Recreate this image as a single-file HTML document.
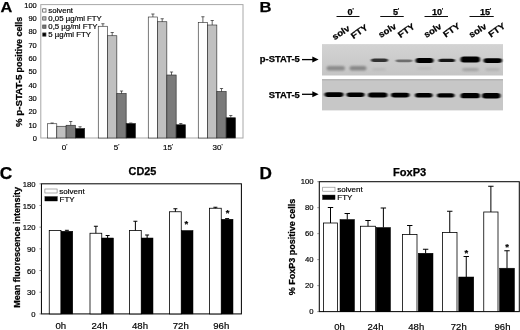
<!DOCTYPE html>
<html lang="en"><head><meta charset="utf-8"><title>Figure</title>
<style>html,body{margin:0;padding:0;background:#fff}body{width:520px;height:330px;overflow:hidden}svg{display:block}text{font-family:'Liberation Sans', Arial, sans-serif;fill:#000}</style>
</head><body>
<svg width="520" height="330" viewBox="0 0 520 330">
<defs><filter id="b1" x="-20%" y="-50%" width="140%" height="200%"><feGaussianBlur stdDeviation="0.9 0.7"/></filter><filter id="b2" x="-20%" y="-50%" width="140%" height="200%"><feGaussianBlur stdDeviation="1.2 1.0"/></filter><filter id="soft"><feGaussianBlur stdDeviation="0.35"/></filter></defs>
<rect width="520" height="330" fill="#fff"/>
<g filter="url(#soft)">
<g id="panelA">
<text x="0.5" y="12.4" font-size="14.6" font-weight="bold" text-anchor="start" stroke="#000" stroke-width="0.25" textLength="11.8" lengthAdjust="spacingAndGlyphs">A</text>
<rect x="40.8" y="4.6" width="202.2" height="133.4" fill="#fff" stroke="#a8a8a8" stroke-width="1"/>
<text x="36.8" y="140.9" font-size="7.5" text-anchor="end" stroke="#000" stroke-width="0.18">0</text>
<text x="36.8" y="127.56" font-size="7.5" text-anchor="end" stroke="#000" stroke-width="0.18">10</text>
<text x="36.8" y="114.22" font-size="7.5" text-anchor="end" stroke="#000" stroke-width="0.18">20</text>
<text x="36.8" y="100.88" font-size="7.5" text-anchor="end" stroke="#000" stroke-width="0.18">30</text>
<text x="36.8" y="87.54" font-size="7.5" text-anchor="end" stroke="#000" stroke-width="0.18">40</text>
<text x="36.8" y="74.2" font-size="7.5" text-anchor="end" stroke="#000" stroke-width="0.18">50</text>
<text x="36.8" y="60.85999999999999" font-size="7.5" text-anchor="end" stroke="#000" stroke-width="0.18">60</text>
<text x="36.8" y="47.51999999999999" font-size="7.5" text-anchor="end" stroke="#000" stroke-width="0.18">70</text>
<text x="36.8" y="34.18" font-size="7.5" text-anchor="end" stroke="#000" stroke-width="0.18">80</text>
<text x="36.8" y="20.839999999999996" font-size="7.5" text-anchor="end" stroke="#000" stroke-width="0.18">90</text>
<text x="36.8" y="7.499999999999995" font-size="7.5" text-anchor="end" stroke="#000" stroke-width="0.18">100</text>
<text x="21.7" y="127.0" font-size="8.6" font-weight="bold" text-anchor="start" transform="rotate(-90 21.7 127.0)" stroke="#000" stroke-width="0.25" textLength="52.4" lengthAdjust="spacingAndGlyphs">% p-STAT-5</text>
<text x="21.7" y="72.4" font-size="8.6" font-weight="bold" text-anchor="start" transform="rotate(-90 21.7 72.4)" stroke="#000" stroke-width="0.25" textLength="55.6" lengthAdjust="spacingAndGlyphs">positive cells</text>
<rect x="47.50" y="123.75" width="9.30" height="14.25" fill="#fff" stroke="#222" stroke-width="0.6"/>
<line x1="52.15" y1="123.75" x2="52.15" y2="123.0" stroke="#222" stroke-width="0.7"/>
<line x1="50.55" y1="123.0" x2="53.75" y2="123.0" stroke="#222" stroke-width="0.7"/>
<rect x="56.80" y="126.25" width="9.30" height="11.75" fill="#c0c0c0" stroke="#222" stroke-width="0.6"/>
<rect x="66.10" y="125.25" width="9.30" height="12.75" fill="#7a7a7a" stroke="#222" stroke-width="0.6"/>
<line x1="70.75" y1="125.25" x2="70.75" y2="121.5" stroke="#222" stroke-width="0.7"/>
<line x1="69.15" y1="121.5" x2="72.35" y2="121.5" stroke="#222" stroke-width="0.7"/>
<rect x="75.40" y="128.50" width="9.30" height="9.50" fill="#000" stroke="#222" stroke-width="0.6"/>
<line x1="80.05000000000001" y1="128.5" x2="80.05000000000001" y2="126.75" stroke="#222" stroke-width="0.7"/>
<line x1="78.45000000000002" y1="126.75" x2="81.65" y2="126.75" stroke="#222" stroke-width="0.7"/>
<rect x="98.25" y="26.25" width="9.30" height="111.75" fill="#fff" stroke="#222" stroke-width="0.6"/>
<line x1="102.9" y1="26.25" x2="102.9" y2="23.75" stroke="#222" stroke-width="0.7"/>
<line x1="101.30000000000001" y1="23.75" x2="104.5" y2="23.75" stroke="#222" stroke-width="0.7"/>
<rect x="107.55" y="35.75" width="9.30" height="102.25" fill="#c0c0c0" stroke="#222" stroke-width="0.6"/>
<line x1="112.2" y1="35.75" x2="112.2" y2="32.5" stroke="#222" stroke-width="0.7"/>
<line x1="110.60000000000001" y1="32.5" x2="113.8" y2="32.5" stroke="#222" stroke-width="0.7"/>
<rect x="116.85" y="93.50" width="9.30" height="44.50" fill="#7a7a7a" stroke="#222" stroke-width="0.6"/>
<line x1="121.5" y1="93.5" x2="121.5" y2="91" stroke="#222" stroke-width="0.7"/>
<line x1="119.9" y1="91" x2="123.1" y2="91" stroke="#222" stroke-width="0.7"/>
<rect x="126.15" y="123.50" width="9.30" height="14.50" fill="#000" stroke="#222" stroke-width="0.6"/>
<line x1="130.8" y1="123.5" x2="130.8" y2="123.0" stroke="#222" stroke-width="0.7"/>
<line x1="129.20000000000002" y1="123.0" x2="132.4" y2="123.0" stroke="#222" stroke-width="0.7"/>
<rect x="148.25" y="17.00" width="9.30" height="121.00" fill="#fff" stroke="#222" stroke-width="0.6"/>
<line x1="152.9" y1="17" x2="152.9" y2="14" stroke="#222" stroke-width="0.7"/>
<line x1="151.3" y1="14" x2="154.5" y2="14" stroke="#222" stroke-width="0.7"/>
<rect x="157.55" y="21.75" width="9.30" height="116.25" fill="#c0c0c0" stroke="#222" stroke-width="0.6"/>
<line x1="162.20000000000002" y1="21.75" x2="162.20000000000002" y2="18.75" stroke="#222" stroke-width="0.7"/>
<line x1="160.60000000000002" y1="18.75" x2="163.8" y2="18.75" stroke="#222" stroke-width="0.7"/>
<rect x="166.85" y="75.00" width="9.30" height="63.00" fill="#7a7a7a" stroke="#222" stroke-width="0.6"/>
<line x1="171.5" y1="75" x2="171.5" y2="72" stroke="#222" stroke-width="0.7"/>
<line x1="169.9" y1="72" x2="173.1" y2="72" stroke="#222" stroke-width="0.7"/>
<rect x="176.15" y="124.75" width="9.30" height="13.25" fill="#000" stroke="#222" stroke-width="0.6"/>
<line x1="180.8" y1="124.75" x2="180.8" y2="123.5" stroke="#222" stroke-width="0.7"/>
<line x1="179.20000000000002" y1="123.5" x2="182.4" y2="123.5" stroke="#222" stroke-width="0.7"/>
<rect x="198.25" y="22.50" width="9.30" height="115.50" fill="#fff" stroke="#222" stroke-width="0.6"/>
<line x1="202.9" y1="22.5" x2="202.9" y2="16.75" stroke="#222" stroke-width="0.7"/>
<line x1="201.3" y1="16.75" x2="204.5" y2="16.75" stroke="#222" stroke-width="0.7"/>
<rect x="207.55" y="25.00" width="9.30" height="113.00" fill="#c0c0c0" stroke="#222" stroke-width="0.6"/>
<line x1="212.20000000000002" y1="25" x2="212.20000000000002" y2="20.5" stroke="#222" stroke-width="0.7"/>
<line x1="210.60000000000002" y1="20.5" x2="213.8" y2="20.5" stroke="#222" stroke-width="0.7"/>
<rect x="216.85" y="91.50" width="9.30" height="46.50" fill="#7a7a7a" stroke="#222" stroke-width="0.6"/>
<line x1="221.5" y1="91.5" x2="221.5" y2="88.5" stroke="#222" stroke-width="0.7"/>
<line x1="219.9" y1="88.5" x2="223.1" y2="88.5" stroke="#222" stroke-width="0.7"/>
<rect x="226.15" y="117.75" width="9.30" height="20.25" fill="#000" stroke="#222" stroke-width="0.6"/>
<line x1="230.8" y1="117.75" x2="230.8" y2="115.5" stroke="#222" stroke-width="0.7"/>
<line x1="229.20000000000002" y1="115.5" x2="232.4" y2="115.5" stroke="#222" stroke-width="0.7"/>
<text x="64.5" y="150.2" font-size="8" text-anchor="middle" stroke="#000" stroke-width="0.18">0<tspan font-size="6" dy="-1.8">'</tspan></text>
<text x="116.5" y="150.2" font-size="8" text-anchor="middle" stroke="#000" stroke-width="0.18">5<tspan font-size="6" dy="-1.8">'</tspan></text>
<text x="168" y="150.2" font-size="8" text-anchor="middle" stroke="#000" stroke-width="0.18">15<tspan font-size="6" dy="-1.8">'</tspan></text>
<text x="217.5" y="150.2" font-size="8" text-anchor="middle" stroke="#000" stroke-width="0.18">30<tspan font-size="6" dy="-1.8">'</tspan></text>
<rect x="42.70" y="8.80" width="3.30" height="3.30" fill="#fff" stroke="#444" stroke-width="0.7"/>
<text x="48.3" y="13.100000000000001" font-size="7.8" text-anchor="start" stroke="#000" stroke-width="0.18">solvent</text>
<rect x="42.70" y="16.80" width="3.30" height="3.30" fill="#c0c0c0" stroke="#444" stroke-width="0.7"/>
<text x="48.3" y="21.099999999999998" font-size="7.8" text-anchor="start" stroke="#000" stroke-width="0.18">0,05 µg/ml FTY</text>
<rect x="42.70" y="25.00" width="3.30" height="3.30" fill="#7a7a7a" stroke="#444" stroke-width="0.7"/>
<text x="48.3" y="29.3" font-size="7.8" text-anchor="start" stroke="#000" stroke-width="0.18">0,5 µg/ml FTY</text>
<rect x="42.70" y="32.90" width="3.30" height="3.30" fill="#000" stroke="#444" stroke-width="0.7"/>
<text x="48.3" y="37.2" font-size="7.8" text-anchor="start" stroke="#000" stroke-width="0.18">5 µg/ml FTY</text>
</g>
<g id="panelB">
<text x="259.6" y="12.3" font-size="15.0" font-weight="bold" text-anchor="start" stroke="#000" stroke-width="0.25" textLength="12.0" lengthAdjust="spacingAndGlyphs">B</text>
<linearGradient id="g1" x1="0" y1="0" x2="0" y2="1"><stop offset="0" stop-color="#d3d3d3"/><stop offset="0.5" stop-color="#cccccc"/><stop offset="1" stop-color="#c5c5c5"/></linearGradient>
<rect x="322.00" y="44.10" width="181.00" height="31.40" fill="url(#g1)"/>
<rect x="322.00" y="79.00" width="181.00" height="31.40" fill="#c7c7c7"/>
<rect x="322.00" y="79.00" width="181.00" height="1.60" fill="#b6b6b6"/>
<text x="350.6" y="15.0" font-size="9.1" font-weight="bold" text-anchor="middle" stroke="#000" stroke-width="0.25">0<tspan font-size="6.5" dy="-2.2" font-weight="normal">'</tspan></text>
<line x1="336.5" y1="16.5" x2="359.5" y2="16.5" stroke="#111" stroke-width="1.0"/>
<text x="396.1" y="15.0" font-size="9.1" font-weight="bold" text-anchor="middle" stroke="#000" stroke-width="0.25">5<tspan font-size="6.5" dy="-2.2" font-weight="normal">'</tspan></text>
<line x1="380.25" y1="16.5" x2="403.75" y2="16.5" stroke="#111" stroke-width="1.0"/>
<text x="437.6" y="15.0" font-size="9.1" font-weight="bold" text-anchor="middle" stroke="#000" stroke-width="0.25">10<tspan font-size="6.5" dy="-2.2" font-weight="normal">'</tspan></text>
<line x1="424.5" y1="16.5" x2="448" y2="16.5" stroke="#111" stroke-width="1.0"/>
<text x="485.6" y="15.0" font-size="9.1" font-weight="bold" text-anchor="middle" stroke="#000" stroke-width="0.25">15<tspan font-size="6.5" dy="-2.2" font-weight="normal">'</tspan></text>
<line x1="469.5" y1="16.5" x2="493.75" y2="16.5" stroke="#111" stroke-width="1.0"/>
<text x="334.45" y="40.2" font-size="8.8" font-weight="bold" text-anchor="start" transform="rotate(-32.5 334.45 40.2)" stroke="#000" stroke-width="0.25" textLength="19.19" lengthAdjust="spacingAndGlyphs">solv</text>
<text x="353.5" y="39.2" font-size="8.8" font-weight="bold" text-anchor="start" transform="rotate(-35 353.5 39.2)" stroke="#000" stroke-width="0.25" textLength="18.28" lengthAdjust="spacingAndGlyphs">FTY</text>
<text x="380.8" y="38.1" font-size="8.8" font-weight="bold" text-anchor="start" transform="rotate(-32.5 380.8 38.1)" stroke="#000" stroke-width="0.25" textLength="19.19" lengthAdjust="spacingAndGlyphs">solv</text>
<text x="400.5" y="38.2" font-size="8.8" font-weight="bold" text-anchor="start" transform="rotate(-35 400.5 38.2)" stroke="#000" stroke-width="0.25" textLength="18.28" lengthAdjust="spacingAndGlyphs">FTY</text>
<text x="426.2" y="38.1" font-size="8.8" font-weight="bold" text-anchor="start" transform="rotate(-32.5 426.2 38.1)" stroke="#000" stroke-width="0.25" textLength="19.19" lengthAdjust="spacingAndGlyphs">solv</text>
<text x="445.75" y="37.7" font-size="8.8" font-weight="bold" text-anchor="start" transform="rotate(-35 445.75 37.7)" stroke="#000" stroke-width="0.25" textLength="18.28" lengthAdjust="spacingAndGlyphs">FTY</text>
<text x="471.2" y="38.1" font-size="8.8" font-weight="bold" text-anchor="start" transform="rotate(-32.5 471.2 38.1)" stroke="#000" stroke-width="0.25" textLength="19.19" lengthAdjust="spacingAndGlyphs">solv</text>
<text x="491" y="37.7" font-size="8.8" font-weight="bold" text-anchor="start" transform="rotate(-35 491 37.7)" stroke="#000" stroke-width="0.25" textLength="18.28" lengthAdjust="spacingAndGlyphs">FTY</text>
<text x="259.8" y="62.4" font-size="8.4" font-weight="bold" text-anchor="start" stroke="#000" stroke-width="0.25" textLength="40" lengthAdjust="spacingAndGlyphs">p-STAT-5</text>
<text x="268.8" y="97.6" font-size="8.4" font-weight="bold" text-anchor="start" stroke="#000" stroke-width="0.25" textLength="31" lengthAdjust="spacingAndGlyphs">STAT-5</text>
<line x1="302" y1="59.6" x2="314" y2="59.6" stroke="#000" stroke-width="1.3"/>
<polygon points="318.6,59.6 312.3,56.6 312.3,62.6" fill="#000"/>
<line x1="302" y1="94.3" x2="314" y2="94.3" stroke="#000" stroke-width="1.3"/>
<polygon points="318.6,94.3 312.3,91.3 312.3,97.3" fill="#000"/>
<rect x="326.5" y="66.00" width="18.5" height="4.6" rx="3.00" ry="2.30" fill="#8a8a8a" filter="url(#b2)"/>
<rect x="349.5" y="66.00" width="17.0" height="4.6" rx="3.00" ry="2.30" fill="#878787" filter="url(#b2)"/>
<rect x="371" y="58.50" width="17" height="3.4" rx="3.00" ry="1.70" fill="#303030" filter="url(#b1)"/>
<rect x="395.5" y="59.40" width="17.0" height="2.8" rx="3.00" ry="1.40" fill="#6e6e6e" filter="url(#b1)"/>
<rect x="415.5" y="58.10" width="18.0" height="5.0" rx="3.00" ry="2.50" fill="#000" filter="url(#b1)"/>
<rect x="438.5" y="58.70" width="16.5" height="3.4" rx="3.00" ry="1.70" fill="#141414" filter="url(#b1)"/>
<rect x="460.5" y="56.60" width="19.5" height="6.0" rx="3.00" ry="3.00" fill="#000" filter="url(#b1)"/>
<rect x="483.5" y="58.30" width="18.5" height="4.6" rx="3.00" ry="2.30" fill="#030303" filter="url(#b1)"/>
<rect x="462" y="68.00" width="17" height="3.2" rx="3.00" ry="1.60" fill="#a4a4a4" filter="url(#b2)"/>
<rect x="485" y="68.20" width="15" height="2.8" rx="3.00" ry="1.40" fill="#b2b2b2" filter="url(#b2)"/>
<rect x="372" y="68.20" width="14" height="2.6" rx="3.00" ry="1.30" fill="#bababa" filter="url(#b2)"/>
<rect x="417" y="67.20" width="15" height="2.6" rx="3.00" ry="1.30" fill="#bbbbbb" filter="url(#b2)"/>
<rect x="324.5" y="92.30" width="19.0" height="4.6" rx="3.2" ry="2.30" fill="#000" filter="url(#b1)"/>
<rect x="346.5" y="92.57" width="18.0" height="4.4" rx="3.2" ry="2.20" fill="#000" filter="url(#b1)"/>
<rect x="368" y="92.44" width="19.5" height="5.0" rx="3.2" ry="2.50" fill="#000" filter="url(#b1)"/>
<rect x="391" y="92.71" width="18.5" height="4.8" rx="3.2" ry="2.40" fill="#000" filter="url(#b1)"/>
<rect x="415" y="92.99" width="17.5" height="4.6" rx="3.2" ry="2.30" fill="#000" filter="url(#b1)"/>
<rect x="437" y="93.36" width="17.5" height="4.2" rx="3.2" ry="2.10" fill="#000" filter="url(#b1)"/>
<rect x="460.5" y="92.93" width="19.5" height="5.4" rx="3.2" ry="2.70" fill="#000" filter="url(#b1)"/>
<rect x="482" y="93.10" width="18.5" height="5.4" rx="3.2" ry="2.70" fill="#000" filter="url(#b1)"/>
</g>
<g id="panelC">
<text x="-0.2" y="178.7" font-size="15.8" font-weight="bold" text-anchor="start" stroke="#000" stroke-width="0.25" textLength="12.5" lengthAdjust="spacingAndGlyphs">C</text>
<text x="128.6" y="175.2" font-size="10.8" font-weight="bold" text-anchor="start" stroke="#000" stroke-width="0.25" textLength="27.8" lengthAdjust="spacingAndGlyphs">CD25</text>
<rect x="41.45" y="183.8" width="199.95" height="130.09999999999997" fill="#fff" stroke="#0a0a0a" stroke-width="1.05"/>
<text x="35.6" y="316.7" font-size="7.7" text-anchor="end" stroke="#000" stroke-width="0.18">0</text>
<line x1="39.45" y1="313.9" x2="41.45" y2="313.9" stroke="#444" stroke-width="0.6"/>
<text x="35.6" y="295.09999999999997" font-size="7.7" text-anchor="end" stroke="#000" stroke-width="0.18">30</text>
<line x1="39.45" y1="292.21666666666664" x2="41.45" y2="292.21666666666664" stroke="#444" stroke-width="0.6"/>
<text x="35.6" y="273.5" font-size="7.7" text-anchor="end" stroke="#000" stroke-width="0.18">60</text>
<line x1="39.45" y1="270.5333333333333" x2="41.45" y2="270.5333333333333" stroke="#444" stroke-width="0.6"/>
<text x="35.6" y="251.89999999999998" font-size="7.7" text-anchor="end" stroke="#000" stroke-width="0.18">90</text>
<line x1="39.45" y1="248.85" x2="41.45" y2="248.85" stroke="#444" stroke-width="0.6"/>
<text x="35.6" y="230.29999999999998" font-size="7.7" text-anchor="end" stroke="#000" stroke-width="0.18">120</text>
<line x1="39.45" y1="227.16666666666666" x2="41.45" y2="227.16666666666666" stroke="#444" stroke-width="0.6"/>
<text x="35.6" y="208.7" font-size="7.7" text-anchor="end" stroke="#000" stroke-width="0.18">150</text>
<line x1="39.45" y1="205.48333333333335" x2="41.45" y2="205.48333333333335" stroke="#444" stroke-width="0.6"/>
<text x="35.6" y="187.1" font-size="7.7" text-anchor="end" stroke="#000" stroke-width="0.18">180</text>
<line x1="39.45" y1="183.8" x2="41.45" y2="183.8" stroke="#444" stroke-width="0.6"/>
<text x="19.7" y="307.7" font-size="8.2" font-weight="bold" text-anchor="start" transform="rotate(-90 19.7 307.7)" stroke="#000" stroke-width="0.25" textLength="120.8" lengthAdjust="spacingAndGlyphs">Mean fluorescence intensity</text>
<rect x="49.25" y="230.50" width="11.75" height="83.40" fill="#fff" stroke="#000" stroke-width="0.8"/>
<rect x="61.00" y="231.25" width="11.75" height="82.65" fill="#000" stroke="#000" stroke-width="0.5"/>
<line x1="66.875" y1="231.25" x2="66.875" y2="230.3" stroke="#000" stroke-width="1.0"/>
<line x1="64.875" y1="230.3" x2="68.875" y2="230.3" stroke="#000" stroke-width="1.0"/>
<rect x="90.00" y="233.25" width="11.75" height="80.65" fill="#fff" stroke="#000" stroke-width="0.8"/>
<line x1="95.875" y1="233.25" x2="95.875" y2="226.25" stroke="#000" stroke-width="1.0"/>
<line x1="93.875" y1="226.25" x2="97.875" y2="226.25" stroke="#000" stroke-width="1.0"/>
<rect x="101.75" y="238.00" width="11.75" height="75.90" fill="#000" stroke="#000" stroke-width="0.5"/>
<line x1="107.625" y1="238" x2="107.625" y2="235.5" stroke="#000" stroke-width="1.0"/>
<line x1="105.625" y1="235.5" x2="109.625" y2="235.5" stroke="#000" stroke-width="1.0"/>
<rect x="129.50" y="230.50" width="11.75" height="83.40" fill="#fff" stroke="#000" stroke-width="0.8"/>
<line x1="135.375" y1="230.5" x2="135.375" y2="221.25" stroke="#000" stroke-width="1.0"/>
<line x1="133.375" y1="221.25" x2="137.375" y2="221.25" stroke="#000" stroke-width="1.0"/>
<rect x="141.25" y="238.00" width="11.75" height="75.90" fill="#000" stroke="#000" stroke-width="0.5"/>
<line x1="147.125" y1="238" x2="147.125" y2="235" stroke="#000" stroke-width="1.0"/>
<line x1="145.125" y1="235" x2="149.125" y2="235" stroke="#000" stroke-width="1.0"/>
<rect x="169.50" y="211.75" width="11.75" height="102.15" fill="#fff" stroke="#000" stroke-width="0.8"/>
<line x1="175.375" y1="211.75" x2="175.375" y2="208.75" stroke="#000" stroke-width="1.0"/>
<line x1="173.375" y1="208.75" x2="177.375" y2="208.75" stroke="#000" stroke-width="1.0"/>
<rect x="181.25" y="230.50" width="11.75" height="83.40" fill="#000" stroke="#000" stroke-width="0.5"/>
<rect x="209.50" y="208.25" width="11.75" height="105.65" fill="#fff" stroke="#000" stroke-width="0.8"/>
<line x1="215.375" y1="208.25" x2="215.375" y2="207.25" stroke="#000" stroke-width="1.0"/>
<line x1="213.375" y1="207.25" x2="217.375" y2="207.25" stroke="#000" stroke-width="1.0"/>
<rect x="221.25" y="219.25" width="11.75" height="94.65" fill="#000" stroke="#000" stroke-width="0.5"/>
<line x1="227.125" y1="219.25" x2="227.125" y2="218.6" stroke="#000" stroke-width="1.0"/>
<line x1="225.125" y1="218.6" x2="229.125" y2="218.6" stroke="#000" stroke-width="1.0"/>
<text x="60.75" y="329.4" font-size="9.6" text-anchor="middle" stroke="#000" stroke-width="0.18">0h</text>
<text x="99.5" y="329.4" font-size="9.6" text-anchor="middle" stroke="#000" stroke-width="0.18">24h</text>
<text x="140" y="329.4" font-size="9.6" text-anchor="middle" stroke="#000" stroke-width="0.18">48h</text>
<text x="180.75" y="329.4" font-size="9.6" text-anchor="middle" stroke="#000" stroke-width="0.18">72h</text>
<text x="221.25" y="329.4" font-size="9.6" text-anchor="middle" stroke="#000" stroke-width="0.18">96h</text>
<text x="186.4" y="226.9" font-size="9.5" font-weight="bold" text-anchor="middle" stroke="#000" stroke-width="0.2">*</text>
<text x="227.5" y="216.4" font-size="9.5" font-weight="bold" text-anchor="middle" stroke="#000" stroke-width="0.2">*</text>
<rect x="44.90" y="189.00" width="12.20" height="4.00" fill="#fff" stroke="#777" stroke-width="0.6"/>
<rect x="44.90" y="196.60" width="12.40" height="4.40" fill="#000" stroke="#000" stroke-width="0.4"/>
<text x="59.3" y="193.8" font-size="8" text-anchor="start" stroke="#000" stroke-width="0.18">solvent</text>
<text x="59.5" y="201.6" font-size="8" text-anchor="start" stroke="#000" stroke-width="0.18">FTY</text>
</g>
<g id="panelD">
<text x="259.4" y="178.7" font-size="15.9" font-weight="bold" text-anchor="start" stroke="#000" stroke-width="0.25" textLength="12.4" lengthAdjust="spacingAndGlyphs">D</text>
<text x="393.0" y="175.5" font-size="11.1" font-weight="bold" text-anchor="start" stroke="#000" stroke-width="0.25" textLength="33.3" lengthAdjust="spacingAndGlyphs">FoxP3</text>
<rect x="319.3" y="181.7" width="199.99999999999994" height="129.90000000000003" fill="#fff" stroke="#0a0a0a" stroke-width="1.05"/>
<text x="313.6" y="314.3" font-size="7.7" text-anchor="end" stroke="#000" stroke-width="0.18">0</text>
<line x1="317.3" y1="311.6" x2="319.3" y2="311.6" stroke="#444" stroke-width="0.6"/>
<text x="313.6" y="288.32" font-size="7.7" text-anchor="end" stroke="#000" stroke-width="0.18">20</text>
<line x1="317.3" y1="285.62" x2="319.3" y2="285.62" stroke="#444" stroke-width="0.6"/>
<text x="313.6" y="262.34" font-size="7.7" text-anchor="end" stroke="#000" stroke-width="0.18">40</text>
<line x1="317.3" y1="259.64" x2="319.3" y2="259.64" stroke="#444" stroke-width="0.6"/>
<text x="313.6" y="236.36" font-size="7.7" text-anchor="end" stroke="#000" stroke-width="0.18">60</text>
<line x1="317.3" y1="233.66000000000003" x2="319.3" y2="233.66000000000003" stroke="#444" stroke-width="0.6"/>
<text x="313.6" y="210.38" font-size="7.7" text-anchor="end" stroke="#000" stroke-width="0.18">80</text>
<line x1="317.3" y1="207.68" x2="319.3" y2="207.68" stroke="#444" stroke-width="0.6"/>
<text x="313.6" y="184.39999999999998" font-size="7.7" text-anchor="end" stroke="#000" stroke-width="0.18">100</text>
<line x1="317.3" y1="181.7" x2="319.3" y2="181.7" stroke="#444" stroke-width="0.6"/>
<text x="294.7" y="295.3" font-size="8.2" font-weight="bold" text-anchor="start" transform="rotate(-90 294.7 295.3)" stroke="#000" stroke-width="0.25" textLength="96.6" lengthAdjust="spacingAndGlyphs">% FoxP3 positive cells</text>
<rect x="323.50" y="223.00" width="14.00" height="88.60" fill="#fff" stroke="#000" stroke-width="0.8"/>
<line x1="330.5" y1="223" x2="330.5" y2="207.5" stroke="#000" stroke-width="1.0"/>
<line x1="327.8" y1="207.5" x2="333.2" y2="207.5" stroke="#000" stroke-width="1.0"/>
<rect x="340.00" y="219.50" width="14.50" height="92.10" fill="#000" stroke="#000" stroke-width="0.5"/>
<line x1="347.25" y1="219.5" x2="347.25" y2="213.5" stroke="#000" stroke-width="1.0"/>
<line x1="344.55" y1="213.5" x2="349.95" y2="213.5" stroke="#000" stroke-width="1.0"/>
<rect x="360.50" y="226.25" width="15.00" height="85.35" fill="#fff" stroke="#000" stroke-width="0.8"/>
<line x1="368.0" y1="226.25" x2="368.0" y2="220.5" stroke="#000" stroke-width="1.0"/>
<line x1="365.3" y1="220.5" x2="370.7" y2="220.5" stroke="#000" stroke-width="1.0"/>
<rect x="376.25" y="227.50" width="14.25" height="84.10" fill="#000" stroke="#000" stroke-width="0.5"/>
<line x1="383.375" y1="227.5" x2="383.375" y2="208" stroke="#000" stroke-width="1.0"/>
<line x1="380.675" y1="208" x2="386.075" y2="208" stroke="#000" stroke-width="1.0"/>
<rect x="402.50" y="234.50" width="14.50" height="77.10" fill="#fff" stroke="#000" stroke-width="0.8"/>
<line x1="409.75" y1="234.5" x2="409.75" y2="225.5" stroke="#000" stroke-width="1.0"/>
<line x1="407.05" y1="225.5" x2="412.45" y2="225.5" stroke="#000" stroke-width="1.0"/>
<rect x="418.25" y="253.25" width="14.75" height="58.35" fill="#000" stroke="#000" stroke-width="0.5"/>
<line x1="425.625" y1="253.25" x2="425.625" y2="249.25" stroke="#000" stroke-width="1.0"/>
<line x1="422.925" y1="249.25" x2="428.325" y2="249.25" stroke="#000" stroke-width="1.0"/>
<rect x="442.50" y="232.50" width="14.50" height="79.10" fill="#fff" stroke="#000" stroke-width="0.8"/>
<line x1="449.75" y1="232.5" x2="449.75" y2="211.25" stroke="#000" stroke-width="1.0"/>
<line x1="447.05" y1="211.25" x2="452.45" y2="211.25" stroke="#000" stroke-width="1.0"/>
<rect x="458.75" y="277.00" width="15.00" height="34.60" fill="#000" stroke="#000" stroke-width="0.5"/>
<line x1="466.25" y1="277" x2="466.25" y2="256.5" stroke="#000" stroke-width="1.0"/>
<line x1="463.55" y1="256.5" x2="468.95" y2="256.5" stroke="#000" stroke-width="1.0"/>
<rect x="483.75" y="212.00" width="14.25" height="99.60" fill="#fff" stroke="#000" stroke-width="0.8"/>
<line x1="490.875" y1="212" x2="490.875" y2="186.25" stroke="#000" stroke-width="1.0"/>
<line x1="488.175" y1="186.25" x2="493.575" y2="186.25" stroke="#000" stroke-width="1.0"/>
<rect x="499.50" y="268.20" width="15.00" height="43.40" fill="#000" stroke="#000" stroke-width="0.5"/>
<line x1="507.0" y1="268.2" x2="507.0" y2="250.75" stroke="#000" stroke-width="1.0"/>
<line x1="504.3" y1="250.75" x2="509.7" y2="250.75" stroke="#000" stroke-width="1.0"/>
<text x="339.5" y="329.6" font-size="9.5" text-anchor="middle" stroke="#000" stroke-width="0.18">0h</text>
<text x="375.5" y="329.6" font-size="9.5" text-anchor="middle" stroke="#000" stroke-width="0.18">24h</text>
<text x="416.25" y="329.6" font-size="9.5" text-anchor="middle" stroke="#000" stroke-width="0.18">48h</text>
<text x="458.75" y="329.6" font-size="9.5" text-anchor="middle" stroke="#000" stroke-width="0.18">72h</text>
<text x="502.5" y="329.6" font-size="9.5" text-anchor="middle" stroke="#000" stroke-width="0.18">96h</text>
<text x="466.4" y="256.3" font-size="9.5" font-weight="bold" text-anchor="middle" stroke="#000" stroke-width="0.2">*</text>
<text x="507.1" y="250.2" font-size="9.5" font-weight="bold" text-anchor="middle" stroke="#000" stroke-width="0.2">*</text>
<rect x="322.70" y="187.20" width="12.30" height="4.00" fill="#fff" stroke="#808080" stroke-width="0.6"/>
<rect x="322.70" y="195.10" width="12.30" height="4.40" fill="#000" stroke="#000" stroke-width="0.5"/>
<text x="337.3" y="192.0" font-size="8" text-anchor="start" stroke="#000" stroke-width="0.18">solvent</text>
<text x="337.3" y="200.3" font-size="8" text-anchor="start" stroke="#000" stroke-width="0.18">FTY</text>
</g>
</g>
</svg></body></html>
